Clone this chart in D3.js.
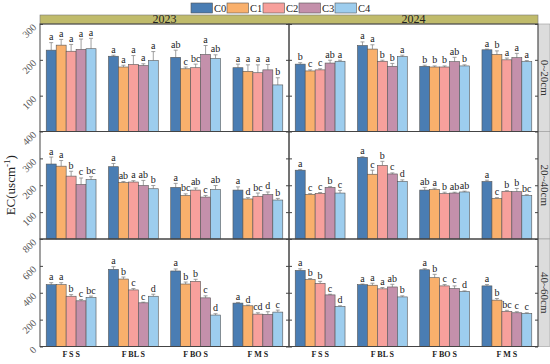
<!DOCTYPE html>
<html>
<head>
<meta charset="utf-8">
<script src="https://cdn.jsdelivr.net/npm/d3@7"></script>
<style>
  body { margin:0; background:#fff; }
  text { font-family: "Liberation Serif", "Times New Roman", serif; }
</style>
</head>
<body>
<svg id="viz" width="550" height="364"></svg>
<script>
const years = ["2023", "2024"]
const depths = ["0~20cm", "20~40cm", "40~60cm"]
const sites = ["F S S", "F BL S", "F BO S", "F M S"]
const series = ["C0", "C1", "C2", "C3", "C4"]
const colors = ["#4a7db3", "#f9b06c", "#f7a09c", "#c490ab", "#9dcdee"]
const yMax = [300, 400, 800]
const yTicks = [[100, 200, 300], [100, 200, 300, 400], [0, 200, 400, 600, 800]]

// means, one row per site, one value per treatment
const mean_0_20_2023 = [[227,241,224,229,231],[210,180,187,184,198],[207,175,178,215,204],[178,168,164,172,130]]
const sd_0_20_2023 = [[21,16,19,29,29],[3,5,25,5,25],[20,5,10,25,10],[10,18,22,15,20]]
const sig_0_20_2023 = [["a","a","a","a","a"],["a","a","a","a","a"],["ab","c","bc","a","ab"],["a","a","a","a","b"]]

const mean_0_20_2024 = [[188,169,172,191,196],[240,230,196,182,209],[182,180,180,195,183],[228,215,200,206,195]]
const sd_0_20_2024 = [[4,3,3,8,3],[10,12,3,8,4],[3,3,3,12,3],[2,10,5,12,3]]
const sig_0_20_2024 = [["b","c","c","ab","a"],["a","a","b","b","a"],["b","b","b","ab","b"],["a","b","a","a","a"]]

const mean_20_40_2023 = [[279,271,234,203,221],[269,210,212,199,187],[192,162,182,156,184],[182,149,159,165,145]]
const sd_20_40_2023 = [[26,21,18,24,11],[12,4,5,19,12],[15,6,8,6,15],[12,5,12,10,6]]
const sig_20_40_2023 = [["a","a","b","c","bc"],["a","ab","a","ab","b"],["a","bc","ab","c","ab"],["a","d","bc","d","b"]]

const mean_20_40_2024 = [[256,166,170,192,171],[304,241,274,242,214],[182,184,169,171,175],[214,151,177,176,162]]
const sd_20_40_2024 = [[2,3,3,3,10],[2,15,15,4,6],[10,5,5,3,3],[5,3,3,12,3]]
const sig_20_40_2024 = [["a","c","c","b","c"],["a","c","b","c","d"],["ab","a","b","ab","ab"],["a","c","b","b","bc"]]

const mean_40_60_2023 = [[460,460,374,340,365],[574,502,421,325,374],[562,465,485,362,234],[323,303,241,239,256]]
const sd_40_60_2023 = [[15,15,12,10,10],[20,15,10,5,15],[15,15,15,15,10],[5,5,10,20,15]]
const sig_40_60_2023 = [["a","a","b","c","bc"],["a","b","c","c","d"],["a","b","b","c","d"],["a","d","cd","d","c"]]

const mean_40_60_2024 = [[566,498,470,384,298],[460,456,429,443,369],[571,512,451,431,409],[451,345,261,251,246]]
const sd_40_60_2024 = [[12,8,15,5,5],[5,15,10,20,8],[8,25,10,20,5],[10,12,8,8,5]]
const sig_40_60_2024 = [["a","b","b","c","d"],["a","a","a","ab","b"],["a","b","c","c","d"],["a","b","bc","c","c"]]

const panels = [
    [[mean_0_20_2023, sd_0_20_2023, sig_0_20_2023], [mean_0_20_2024, sd_0_20_2024, sig_0_20_2024]],
    [[mean_20_40_2023, sd_20_40_2023, sig_20_40_2023], [mean_20_40_2024, sd_20_40_2024, sig_20_40_2024]],
    [[mean_40_60_2023, sd_40_60_2023, sig_40_60_2023], [mean_40_60_2024, sd_40_60_2024, sig_40_60_2024]]
]

const svg = d3.select("svg#viz")
const LEFT = 40, RIGHT = 538, TOP = 24, BOTTOM = 346.5
const panelW = (RIGHT - LEFT) / 2
const rowH = (BOTTOM - TOP) / 3
const lineCol = "#444"

const x0 = d3.scaleBand().domain(sites).range([0, panelW]).paddingInner(0.2).paddingOuter(0.1)
const x1 = d3.scaleBand().domain(series).range([0, x0.bandwidth()])

// legend
const legend = svg.append("g").attr("transform", "translate(191,3)")
series.forEach((s, i) => {
    const g = legend.append("g").attr("transform", `translate(${i * 36},0)`)
    g.append("rect").attr("width", 21.5).attr("height", 10)
        .attr("fill", colors[i]).attr("stroke", "#555").attr("stroke-width", 0.6)
    g.append("text").attr("x", 23).attr("y", 9).attr("font-size", 10.5).attr("fill", "#222").text(s)
})

// year header band
svg.append("rect").attr("x", LEFT).attr("y", 15).attr("width", RIGHT - LEFT).attr("height", TOP - 15)
    .attr("fill", "#c0bb6b").attr("stroke", "#777").attr("stroke-width", 0.6)
years.forEach((yr, j) => {
    svg.append("text").attr("x", LEFT + panelW * j + panelW / 2).attr("y", TOP - 1.5)
        .attr("text-anchor", "middle").attr("font-size", 12).attr("fill", "#222").text(yr)
})

depths.forEach((dep, r) => {
    const top = TOP + rowH * r
    const y = d3.scaleLinear().domain([0, yMax[r]]).range([top + rowH, top])

    // depth strip on the right
    svg.append("rect").attr("x", RIGHT).attr("y", top).attr("width", 12).attr("height", rowH)
        .attr("fill", "#dcdcdc").attr("stroke", "#999").attr("stroke-width", 0.6)
    svg.append("text").attr("transform", `translate(${RIGHT + 3},${top + rowH / 2}) rotate(90)`)
        .attr("text-anchor", "middle").attr("font-size", 11).attr("fill", "#333").text(dep)

    // y axis labels (rotated)
    const ax = svg.append("g").attr("transform", `translate(${LEFT},0)`)
    ax.selectAll("text").data(yTicks[r]).join("text")
        .attr("transform", d => `translate(-3,${y(d) + 4}) rotate(-45)`)
        .attr("text-anchor", "end").attr("font-size", 10).attr("fill", "#555")
        .text(d => d)

    years.forEach((yr, j) => {
        const px = LEFT + panelW * j
        const [means, sds, sigs] = panels[r][j]
        const g = svg.append("g").attr("transform", `translate(${px},0)`)

        // inward ticks left / right and bottom
        g.append("g").call(d3.axisLeft(y).tickValues(yTicks[r]).tickSize(-3).tickFormat(""))
            .call(a => a.select(".domain").remove())
            .selectAll("line").attr("stroke", lineCol)
        g.append("g").attr("transform", `translate(${panelW},0)`)
            .call(d3.axisRight(y).tickValues(yTicks[r]).tickSize(-3).tickFormat(""))
            .call(a => a.select(".domain").remove())
            .selectAll("line").attr("stroke", lineCol)
        g.append("g").attr("transform", `translate(0,${top + rowH})`)
            .call(d3.axisBottom(x0).tickSize(-3).tickFormat(""))
            .call(a => a.select(".domain").remove())
            .selectAll("line").attr("stroke", lineCol)

        sites.forEach((site, k) => {
            const sg = g.append("g").attr("transform", `translate(${x0(site)},0)`)
            const rows = series.map((s, i) => ({ s, i, v: means[k][i], e: sds[k][i], l: sigs[k][i] }))

            sg.selectAll("line.err").data(rows).join("line").attr("class", "err")
                .attr("x1", d => x1(d.s) + x1.bandwidth() / 2)
                .attr("x2", d => x1(d.s) + x1.bandwidth() / 2)
                .attr("y1", d => y(d.v)).attr("y2", d => y(d.v + d.e))
                .attr("stroke", "#888").attr("stroke-width", 0.8)
            sg.selectAll("line.cap").data(rows).join("line").attr("class", "cap")
                .attr("x1", d => x1(d.s) + x1.bandwidth() / 2 - 2)
                .attr("x2", d => x1(d.s) + x1.bandwidth() / 2 + 2)
                .attr("y1", d => y(d.v + d.e)).attr("y2", d => y(d.v + d.e))
                .attr("stroke", "#888").attr("stroke-width", 0.8)

            sg.selectAll("rect").data(rows).join("rect")
                .attr("x", d => x1(d.s)).attr("width", x1.bandwidth())
                .attr("y", d => y(d.v)).attr("height", d => y(0) - y(d.v))
                .attr("fill", d => colors[d.i]).attr("stroke", "#555").attr("stroke-width", 0.6)

            sg.selectAll("text").data(rows).join("text")
                .attr("x", d => x1(d.s) + x1.bandwidth() / 2)
                .attr("y", d => y(d.v + d.e) - 2.5)
                .attr("text-anchor", "middle").attr("font-size", 10).attr("fill", "#222")
                .text(d => d.l)
        })

        // panel frame
        g.append("rect").attr("x", 0).attr("y", top).attr("width", panelW).attr("height", rowH)
            .attr("fill", "none").attr("stroke", lineCol).attr("stroke-width", 1)
    })
})

// x labels
years.forEach((yr, j) => {
    svg.append("g").selectAll("text").data(sites).join("text")
        .attr("x", d => LEFT + panelW * j + x0(d) + x0.bandwidth() / 2)
        .attr("y", 357)
        .attr("text-anchor", "middle").attr("font-size", 8).attr("font-weight", "bold")
        .attr("fill", "#222").text(d => d)
})

// y title
svg.append("text").attr("transform", `translate(15,${TOP + rowH * 1.5}) rotate(-90)`)
    .attr("text-anchor", "middle").attr("font-size", 13).attr("fill", "#222")
    .text("EC(uscm")
    .append("tspan").attr("font-size", 9).attr("dy", -5).text("-1")
    .select(function() { return this.parentNode })
    .append("tspan").attr("dy", 5).text(")")
</script>
</body>
</html>
